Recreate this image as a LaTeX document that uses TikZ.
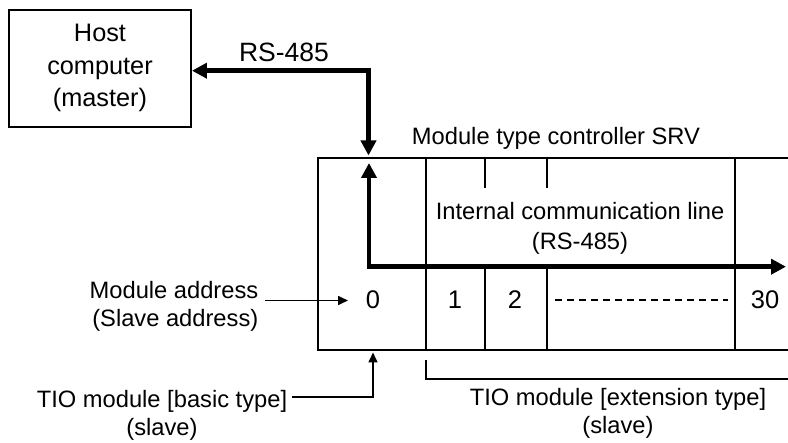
\documentclass[tikz,border=0pt]{standalone}
\usepackage{fontspec}
\setmainfont{Liberation Sans}
\usetikzlibrary{arrows.meta}
\begin{document}
\begin{tikzpicture}[x=1pt,y=-1pt,
  every node/.style={font=\fontsize{23.7}{28}\selectfont, inner sep=0pt},
  digit/.style={font=\fontsize{25.5}{28}\selectfont},
  frame/.style={line width=1.7pt},
  hostbox/.style={draw, line width=2.2pt, minimum width=181.7pt, minimum height=116.7pt, align=center, font=\fontsize{25.3}{32.5}\selectfont},
  lead/.style={line width=1.6pt},
  bus/.style={line width=4.5pt},
  bigtip/.tip={Triangle[length=15pt,width=15pt]},
  smalltip/.tip={Triangle[length=10pt,width=9pt]},
]
\useasboundingbox (0,0) rectangle (788,443);

% host computer
\node[hostbox] (host) at (100,68.3) {Host\\computer\\(master)};
\node[font=\fontsize{26.5}{30}\selectfont] (rs) at (284,52) {RS-485};

% module box (open to the right)
\coordinate (tl) at (318.3,157.7);
\coordinate (bl) at (318.3,350);
\coordinate (tr) at (788,157.7);
\coordinate (br) at (788,350);
\draw[frame] (tr) -- (tl) -- (bl) -- (br);
\draw[frame] (425.7,157.7) -- (425.7,350);
\draw[frame] (485.3,157.7) -- (485.3,188);
\draw[frame] (485.3,266.7) -- (485.3,350);
\draw[frame] (547.3,157.7) -- (547.3,188);
\draw[frame] (547.3,266.7) -- (547.3,350);
\draw[frame] (735.3,157.7) -- (735.3,350);

\node (srv) at (556,138) {Module type controller SRV};
\node[align=center, font=\fontsize{23.7}{30}\selectfont] (icl) at (580,228) {Internal communication line\\(RS-485)};

% external RS-485 bus
\coordinate (hostend) at ([yshift=-2.4pt]host.east);
\coordinate (boxin) at (368.5,155.5);
\draw[bus, {bigtip}-{bigtip}] (hostend) -| (boxin);

% internal bus
\coordinate (ibtop) at (369,163);
\coordinate (ibright) at (786,266.7);
\draw[bus, {bigtip}-{bigtip}] (ibtop) |- (ibright);

% module addresses
\node[digit] (n0) at (373,300) {0};
\node[digit] (n1) at (455,300) {1};
\node[digit] (n2) at (515,300) {2};
\node[digit] (n30) at (765,300) {30};
\coordinate (dA) at (555,300);
\coordinate (dB) at (728,300);
\draw[lead, dash pattern=on 7pt off 5pt] (dA) -- (dB);

% module address label
\node[anchor=east, align=right] (maddr) at (258.5,306) {Module address\\(Slave address)};
\coordinate (maS) at (265,300.5);
\coordinate (maE) at (348,300.5);
\draw[lead, -{smalltip}] (maS) -- (maE);

% basic type label
\node[align=center] (basic) at (162,415) {TIO module [basic type]\\(slave)};
\coordinate (bS) at (292,397);
\coordinate (bE) at (373,352.5);
\draw[lead, -{smalltip}] (bS) -| (bE);

% extension type bracket
\coordinate (eA) at (425.7,360);
\coordinate (eB) at (788,379);
\draw[lead] (eA) |- (eB);
\node[align=center] (ext) at (618,413) {TIO module [extension type]\\(slave)};
\end{tikzpicture}
\end{document}
